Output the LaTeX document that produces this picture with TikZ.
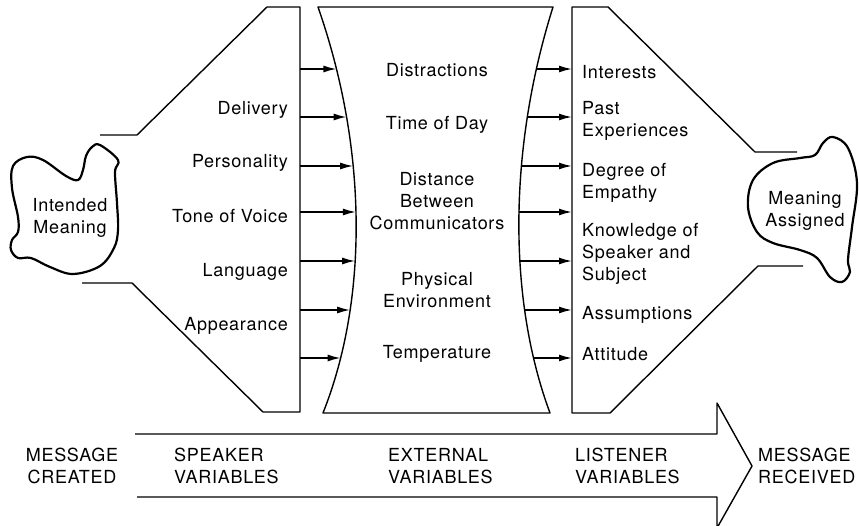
\documentclass[tikz,border=0pt]{standalone}
\usepackage{fontspec}
\setmainfont{TeX Gyre Heros}[LetterSpace=4]
\usetikzlibrary{arrows.meta,positioning,intersections}

\begin{document}
\begin{tikzpicture}[x=1pt, y=-1pt,
    lbl/.style={font=\fontsize{18}{22}\selectfont, inner sep=0pt},
    spk/.style={lbl, anchor=east, align=right},
    ext/.style={lbl, align=center},
    lsn/.style={lbl, anchor=west, align=left},
    stage/.style={lbl, anchor=west, align=left},
    blob/.style={line width=2.2pt, line join=round},
    edge/.style={line width=1.4pt, line join=round},
    arr/.style={-{Latex[length=13pt, width=7pt]}, line width=1.6pt},
  ]
  \useasboundingbox (0,0) rectangle (859,526);

  % meanings
  \draw[blob] plot[smooth cycle, tension=0.6] coordinates {
    (100,145) (118,160) (115,172) (117,203) (118,230) (114,248) (100,266)
    (73,274) (50,267) (31,258) (18,258) (11,250) (12,240) (18,232)
    (18,217) (12,188) (13,166) (27,157) (43,160) (66,176) (78,180)
    (83,170) (86,156) (92,147)};
  \node[ext] (IM) at (70,218) {Intended\\Meaning};

  \draw[blob] plot[smooth cycle, tension=0.6] coordinates {
    (833,137) (848,148) (857,183) (852,227) (848,260) (850,272) (842,282)
    (830,277) (817,258) (800,250) (773,243) (757,232) (748,207) (753,180)
    (773,163) (800,158) (815,155) (823,143)};
  \node[ext] (MA) at (805,211) {Meaning\\Assigned};

  % funnels
  \draw[edge] (100,135) -- (137,135) -- (267,7) -- (300,7) -- (300,412)
    -- (263,412) -- (132,283) -- (82,283);
  \draw[edge] (797,152) -- (755,152) -- (608,7) -- (572,7) -- (572,413)
    -- (610,413) -- (758,266) -- (803,266);

  % external variables
  \draw[edge, name path=ctr] (318,7) -- (553,7)
    .. controls (508,150) and (508,300) .. (550,413) -- (323,413)
    .. controls (368,300) and (368,150) .. (318,7) -- cycle;

  \foreach \y [count=\i] in {69,117,166,212,261,310,358} {
    \coordinate (s\i) at (300,\y);
    \coordinate (r\i) at (572,\y);
    \path[name path=hl] (s\i) -- (437,\y);
    \path[name path=hr] (437,\y) -- (r\i);
    \path[name intersections={of=ctr and hl, by={a\i}}];
    \path[name intersections={of=ctr and hr, by={b\i}}];
    \draw[arr] (s\i) -- (a\i);
    \draw[arr] (b\i) -- (r\i);
  }

  % speaker
  \node[spk] (D) at (288,110) {Delivery};
  \node[spk] (P) at (288,163) {Personality};
  \node[spk] (T) at (288,216) {Tone of Voice};
  \node[spk] (L) at (288,272) {Language};
  \node[spk] (A) at (288,326) {Appearance};

  % external
  \node[ext] (E1) at (437,70) {Distractions};
  \node[ext] (E2) at (437,125) {Time of Day};
  \node[ext] (E3) at (437,201) {Distance\\Between\\Communicators};
  \node[ext] (E4) at (437,290) {Physical\\Environment};
  \node[ext] (E5) at (437,354) {Temperature};

  % listener
  \node[lsn] (L1) at (582,72) {Interests};
  \node[lsn] (L2) at (582,121) {Past\\Experiences};
  \node[lsn] (L3) at (582,183) {Degree of\\Empathy};
  \node[lsn] (L4) at (582,254) {Knowledge of\\Speaker and\\Subject};
  \node[lsn] (L5) at (582,315) {Assumptions};
  \node[lsn] (L6) at (582,354) {Attitude};

  % big arrow
  \draw[edge] (135,434) -- (717,434) -- (717,403) -- (752,466)
    -- (717,528) -- (717,497) -- (137,497);
  \node[ext] (MC) at (72,466) {MESSAGE\\CREATED};
  \node[stage] (SV) at (174,466) {SPEAKER\\VARIABLES};
  \node[stage] (EV) at (388,466) {EXTERNAL\\VARIABLES};
  \node[stage] (LV) at (575,466) {LISTENER\\VARIABLES};
  \node[stage] (MR) at (758,466) {MESSAGE\\RECEIVED};
\end{tikzpicture}
\end{document}
